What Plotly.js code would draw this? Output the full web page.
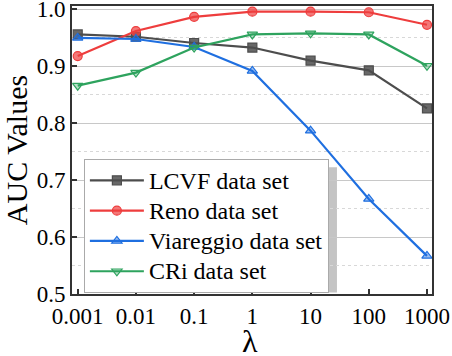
<!DOCTYPE html>
<html>
<head>
<meta charset="utf-8">
<script src="https://cdn.plot.ly/plotly-3.0.1.min.js"></script>
<style>body{margin:0;background:#fff}#plotArea{width:452px;height:356px}</style>
</head>
<body>
<div id="plotArea"></div>
<script>
var lambdas = [0.001, 0.01, 0.1, 1, 10, 100, 1000];
var lambdaLabels = ["0.001", "0.01", "0.1", "1", "10", "100", "1000"];
var aucTicks = [0.5, 0.6, 0.7, 0.8, 0.9, 1.0];
var aucLabels = ["0.5", "0.6", "0.7", "0.8", "0.9", "1.0"];
var seriesNames = ["LCVF data set", "Reno data set", "Viareggio data set", "CRi data set"];
var lcvf = [0.956, 0.952, 0.941, 0.933, 0.910, 0.893, 0.826];
var reno = [0.918, 0.962, 0.987, 0.996, 0.996, 0.995, 0.973];
var viareggio = [0.950, 0.948, 0.934, 0.892, 0.787, 0.667, 0.567];
var cri = [0.866, 0.889, 0.933, 0.956, 0.958, 0.956, 0.901];

// bigger legend text while keeping the row spacing tight
function series(name, y, color, fill, symbol) {
  return {
    x: lambdas, y: y, name: '<span style="font-size:24px">' + name + '</span>',
    type: "scatter", mode: "lines+markers",
    line: {color: color, width: 2.2},
    marker: {symbol: symbol, size: 9, color: fill, line: {color: color, width: 1.2}}
  };
}

var data = [
  series(seriesNames[0], lcvf, "#4d4d4d", "rgba(77,77,77,0.85)", "square"),
  series(seriesNames[1], reno, "#ee3d3d", "rgba(238,61,61,0.7)", "circle"),
  series(seriesNames[2], viareggio, "#1f6fe0", "rgba(31,111,224,0.45)", "triangle-up"),
  series(seriesNames[3], cri, "#2ea35e", "rgba(46,163,94,0.35)", "triangle-down")
];

var font = "Liberation Serif";
var layout = {
  width: 452, height: 356,
  margin: {l: 72, r: 20, t: 6, b: 62},
  paper_bgcolor: "#fff", plot_bgcolor: "#fff",
  font: {family: font, color: "#000", size: 23},
  showlegend: true,
  legend: {
    x: 0.033, y: 0.468, xanchor: "left", yanchor: "top",
    bgcolor: "#fff", bordercolor: "#aaa", borderwidth: 1,
    itemwidth: 54,
    font: {family: font, size: 21, color: "#000"}, tracegroupgap: 0
  },
  xaxis: {
    type: "log", range: [-3.098, 3.086],
    tickvals: lambdas, ticktext: lambdaLabels,
    ticks: "inside", ticklen: 5, tickwidth: 1.5, tickcolor: "#333",
    showline: true, linecolor: "#333", linewidth: 2, mirror: true,
    showgrid: false, zeroline: false,
    tickfont: {family: font, size: 23, color: "#000"}
  },
  yaxis: {
    range: [0.5, 1.006], tickvals: aucTicks, ticktext: aucLabels,
    ticklabeloverflow: "allow",
    ticks: "inside", ticklen: 5, tickwidth: 1.5, tickcolor: "#333",
    showline: true, linecolor: "#333", linewidth: 2, mirror: true,
    showgrid: true, gridcolor: "#c8c8c8", gridwidth: 1,
    minor: {dtick: 0.05, tick0: 0.55, showgrid: true, gridcolor: "#d8d8d8", griddash: "dot", gridwidth: 1},
    zeroline: false,
    tickfont: {family: font, size: 23, color: "#000"},
    title: {text: "AUC Values", font: {family: font, size: 30, color: "#000"}, standoff: 6}
  },
  // x title as annotation so it can sit lower than the axis title allows
  annotations: [{
    text: "λ", xref: "paper", yref: "paper", x: 0.495, y: 0,
    xanchor: "center", yanchor: "top", yshift: -27, showarrow: false,
    font: {family: font, size: 32, color: "#000"}
  }],
  shapes: [{
    type: "rect", xref: "paper", yref: "paper", layer: "below",
    x0: 0.044, x1: 0.736, y0: 0.005, y1: 0.44,
    fillcolor: "#c4c4c4", line: {width: 0}
  }]
};

Plotly.newPlot("plotArea", data, layout, {displayModeBar: false});
</script>
</body>
</html>
